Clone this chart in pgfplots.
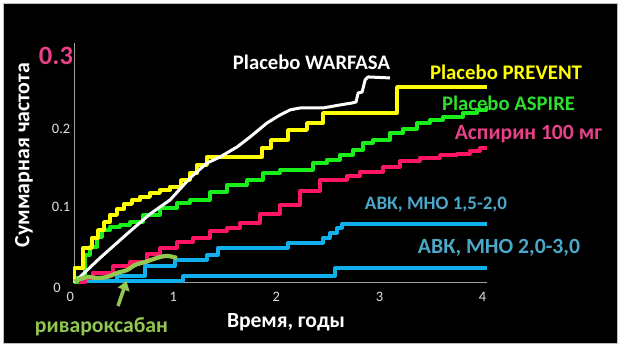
\documentclass[border=0pt]{standalone}
\usepackage{pgfplots}
\pgfplotsset{compat=1.18}
\usepackage{fontspec}
\setmainfont{Carlito}
\usetikzlibrary{arrows.meta}
\definecolor{cyellow}{HTML}{FFFF00}
\definecolor{cgreen}{HTML}{19F019}
\definecolor{cgreenlab}{HTML}{2EE02E}
\definecolor{cpink}{HTML}{FF1466}
\definecolor{cpinklab}{HTML}{E8418A}
\definecolor{cblue}{HTML}{10B0EE}
\definecolor{cbluelab}{HTML}{4BA8C8}
\definecolor{criva}{HTML}{92C850}
\definecolor{caxis}{HTML}{A0A0A0}
\definecolor{ctick}{HTML}{E0E0E0}
\newcommand\fw[2]{\resizebox{#1bp}{!}{#2}}
\begin{document}
\begin{tikzpicture}[x=1bp,y=1bp]
\fill[white] (0,0) rectangle (623,349);
\filldraw[fill=black, draw=gray!50, line width=1bp] (3.5,6) rectangle (617.5,345.5);
\begin{axis}[
 at={(74.3bp,66.5bp)}, anchor=south west, scale only axis,
 width=412.2bp, height=239.5bp,
 xmin=0,xmax=4,ymin=0,ymax=0.307,
 axis x line=bottom, axis y line=left,
 axis line style={-, draw=caxis, line width=0.9bp},
 major tick length=0,
 xtick={0,1,2,3,4}, xticklabels={0,1,2,3,4},
 ytick={0,0.1,0.2}, yticklabels={{\raisebox{-3bp}[\height][\depth]{0}\kern9.5bp},0.1,0.2},
 tick label style={font=\fontsize{14.5}{14.5}\selectfont, text=ctick},
 xticklabel style={xshift=-4bp,yshift=-6bp},
 yticklabel style={xshift=-0.5bp,yshift=-2bp},
 /pgf/number format/assume math mode=true,
 clip=false,
 line join=round,
]
% AVK INR 2.0-3.0
\addplot[cblue, line width=3.2bp, const plot] coordinates {(0,0.002)(1.055,0.0083)(2.530,0.0186)(4.0,0.0186)};
% AVK INR 1.5-2.0
\addplot[cblue, line width=3.2bp, const plot] coordinates {(0,0.002)(0.415,0.0083)(0.686,0.0212)(0.977,0.0288)(1.288,0.0353)(1.394,0.0442)(2.073,0.0506)(2.413,0.0571)(2.481,0.0635)(2.549,0.0699)(2.597,0.0750)(4.0,0.0750)};
% Aspirin 100 mg
\addplot[cpink, line width=3.2bp, const plot] coordinates {(0,0)(0.104,0.0058)(0.181,0.0122)(0.376,0.0212)(0.541,0.0263)(0.705,0.0365)(0.832,0.0442)(0.997,0.0519)(1.152,0.0571)(1.317,0.0660)(1.482,0.0699)(1.608,0.0763)(1.802,0.0878)(1.996,0.0994)(2.190,0.1173)(2.384,0.1314)(2.646,0.1365)(2.772,0.1417)(2.995,0.1481)(3.160,0.1558)(3.354,0.1596)(3.548,0.1635)(3.713,0.1647)(3.839,0.1686)(3.936,0.1724)(4.0,0.1724)};
% Placebo ASPIRE
\addplot[cgreen, line width=3.2bp, const plot] coordinates {(0,0)(0.026,0.0058)(0.104,0.0353)(0.152,0.0455)(0.221,0.0583)(0.269,0.0673)(0.347,0.0712)(0.444,0.0737)(0.541,0.0776)(0.667,0.0865)(0.832,0.0955)(0.997,0.1019)(1.123,0.1058)(1.317,0.1160)(1.482,0.1250)(1.676,0.1314)(1.831,0.1404)(1.996,0.1442)(2.316,0.1532)(2.452,0.1571)(2.578,0.1635)(2.704,0.1699)(2.801,0.1788)(2.898,0.1827)(3.063,0.1917)(3.189,0.1968)(3.325,0.2045)(3.451,0.2083)(3.578,0.2122)(3.772,0.2173)(3.908,0.2212)(4.0,0.2263)};
% Placebo PREVENT
\addplot[cyellow, line width=3.4bp, const plot] coordinates {(0,0)(0,0.0186)(0.084,0.0442)(0.172,0.0571)(0.230,0.0673)(0.288,0.0776)(0.347,0.0865)(0.415,0.0942)(0.482,0.1006)(0.560,0.1058)(0.638,0.1096)(0.735,0.1147)(0.832,0.1186)(0.929,0.1224)(1.035,0.1314)(1.123,0.1404)(1.191,0.1506)(1.288,0.1609)(1.821,0.1724)(1.908,0.1827)(2.073,0.1955)(2.258,0.2045)(2.413,0.2173)(3.131,0.2506)(4.0,0.2506)};
% Placebo WARFASA
\addplot[white, line width=3bp] coordinates {(0,0)(0.055,0.0071)(0.249,0.0314)(0.511,0.0622)(0.735,0.0878)(0.929,0.1058)(1.123,0.1340)(1.288,0.1532)(1.414,0.1609)(1.579,0.1737)(1.705,0.1865)(1.870,0.2045)(1.996,0.2147)(2.093,0.2212)(2.190,0.2237)(2.413,0.2237)(2.578,0.2276)(2.695,0.2301)(2.734,0.2314)(2.754,0.2429)(2.793,0.2442)(2.822,0.2596)(2.851,0.2635)(3.063,0.2622)};
% rivaroxaban
\addplot[criva, line width=4.2bp, smooth, tension=0.5] coordinates {(0,0.001)(0.055,0.0045)(0.133,0.0071)(0.220,0.0058)(0.317,0.0071)(0.415,0.0122)(0.512,0.0160)(0.589,0.0224)(0.686,0.0263)(0.832,0.0327)(0.909,0.0340)(0.997,0.0314)};
\end{axis}
% arrow
\draw[criva, line width=3.5bp, -{Triangle[width=12bp,length=9bp]}] (118,43) -- (126.5,68);
% texts
\node[text=cpinklab, font=\bfseries] at (56,293) {\fw{34}{0.3}};
\node[text=white, font=\bfseries, rotate=90] at (24,194) {\fw{184}{Суммарная частота}};
\node[text=white, font=\bfseries] at (286,27) {\fw{118}{Время, годы}};
\node[text=criva, font=\bfseries] at (101.5,22) {\fw{133}{ривароксабан}};
\node[text=white, font=\bfseries] at (311.5,287) {\fw{157}{Placebo WARFASA}};
\node[text=cyellow, font=\bfseries] at (506,277) {\fw{152}{Placebo PREVENT}};
\node[text=cgreenlab, font=\bfseries] at (508.5,246) {\fw{133}{Placebo ASPIRE}};
\node[text=cpinklab, font=\bfseries] at (528.5,215) {\fw{147}{Аспирин 100 мг}};
\node[text=cbluelab, font=\bfseries] at (436,144) {\fw{142}{АВК, МНО 1,5-2,0}};
\node[text=cbluelab, font=\bfseries] at (499,101) {\fw{162}{АВК, МНО 2,0-3,0}};
\pgfresetboundingbox
\useasboundingbox (0,0) rectangle (623,349);
\end{tikzpicture}
\end{document}
